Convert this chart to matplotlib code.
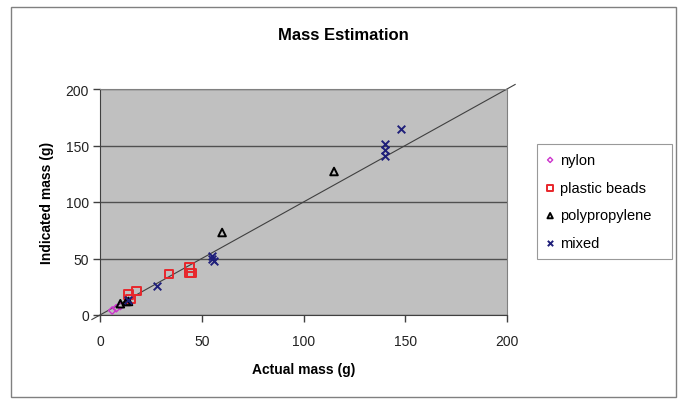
import numpy as np
import matplotlib
matplotlib.use("Agg")
from matplotlib import pyplot as plt
from matplotlib.patches import Rectangle

plt.rcParams['font.family'] = ['Liberation Sans', 'DejaVu Sans']

# data (actual, indicated)
nylon_x = [6, 8, 10]
nylon_y = [4, 6, 8]

beads_x = [14, 15, 18, 34, 44, 44, 45]
beads_y = [18, 14, 21, 36, 42, 37, 37]

poly_x = [10, 13, 14, 60, 115]
poly_y = [10, 12, 12, 73, 127]

mixed_x = [14, 28, 55, 55, 56, 140, 140, 140, 148]
mixed_y = [13, 26, 50, 52, 48, 151, 146, 141, 165]

line_x = [-4, 204]

fig = plt.figure(figsize=(6.81, 4.02), dpi=100)
fig.patches.append(Rectangle((11 / 681, 4 / 402), 665 / 681, 390 / 402,
                             transform=fig.transFigure, fill=False,
                             edgecolor='#808080', linewidth=1.0))

ax = fig.add_axes([100 / 681, 86 / 402, 407 / 681, 226 / 402])
ax.set_facecolor('#c0c0c0')

ax.plot(line_x, line_x, color='#404040', linewidth=0.8, clip_on=False, zorder=2)

ax.scatter(nylon_x, nylon_y, marker='D', s=14, facecolors='none',
           edgecolors='#cc33cc', linewidths=1.0, label='nylon', zorder=3)
ax.scatter(beads_x, beads_y, marker='s', s=36, facecolors='none',
           edgecolors='#e8262b', linewidths=1.4, label='plastic beads', zorder=3)
ax.scatter(poly_x, poly_y, marker='^', s=30, facecolors='none',
           edgecolors='black', linewidths=1.4, label='polypropylene', zorder=3)
ax.scatter(mixed_x, mixed_y, marker='x', s=30, color='#1f1f7a',
           linewidths=1.4, label='mixed', zorder=3)

ax.set_xlim(0, 200)
ax.set_ylim(0, 200)
ax.set_xticks([0, 50, 100, 150, 200])
ax.set_yticks([0, 50, 100, 150, 200])
ax.yaxis.grid(True, color='#505050', linewidth=1.0)
ax.set_axisbelow(True)
ax.tick_params(direction='out', length=5, width=1.0, color='#404040',
               labelsize=10, labelcolor='#222222')
ax.tick_params(axis='x', pad=9)
ax.tick_params(axis='y', pad=3)
for side in ['top', 'right']:
    ax.spines[side].set_color('#808080')
for side in ['left', 'bottom']:
    ax.spines[side].set_color('#404040')

ax.set_xlabel('Actual mass (g)', fontsize=10, fontweight='bold', labelpad=10)
ax.set_ylabel('Indicated mass (g)', fontsize=10, fontweight='bold', labelpad=8)

fig.text(343 / 681, 1 - 36 / 402, 'Mass Estimation', fontsize=12,
         fontweight='bold', ha='center', va='center',
         family=['Liberation Sans Narrow', 'Liberation Sans'])

leg = ax.legend(loc='upper left',
                bbox_to_anchor=(537 / 681, 1 - 260 / 402, 135 / 681, 115 / 402),
                bbox_transform=fig.transFigure, mode='expand', frameon=True,
                fancybox=False, fontsize=10.5, markerscale=0.7,
                handlelength=0.6, handletextpad=0.4, borderpad=0.6,
                labelspacing=0.95, borderaxespad=0)
leg.get_frame().set_edgecolor('#808080')
leg.get_frame().set_linewidth(0.8)

fig.savefig('out.png', dpi=100)
